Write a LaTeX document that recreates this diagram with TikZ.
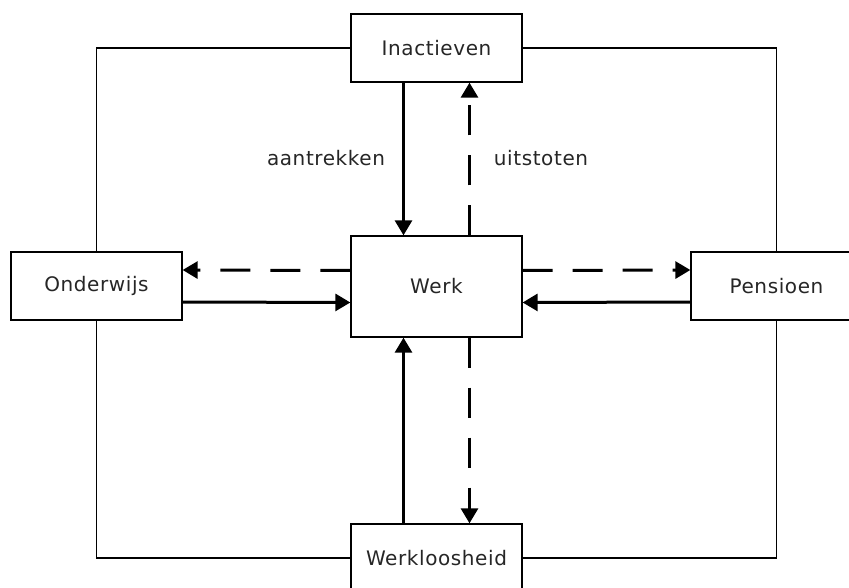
\documentclass[tikz,border=0pt]{standalone}
\usepackage{fontspec}
\setmainfont{DejaVu Sans}[LetterSpace=3]
\usetikzlibrary{arrows.meta}

\tikzset{
  box/.style={draw, line width=1.3pt, fill=white, inner sep=0pt,
    minimum width=171pt, minimum height=68pt},
  lbl/.style={font=\fontsize{20}{24}\selectfont, text=black!85},
  flow/.style={line width=3pt, -{Triangle[width=17pt,length=15pt]}},
  back/.style={flow, dash pattern=on 30pt off 20pt},
  frame/.style={line width=1.3pt},
}

\begin{document}
\begin{tikzpicture}[x=1pt, y=-1pt]

  \newcommand\dX{33pt};
  \newcommand\dY{16pt};

  \useasboundingbox (0,0) rectangle (849,588); %% positioning

  %% boxes
  \node[box, lbl] (inact) at (436.5, 48) {Inactieven};
  \node[box, lbl, minimum height=101pt] (werk) at (436.5, 286.5) {Werk};
  \node[box, lbl] (onder) at (96.5, 286) {Onderwijs};
  \node[box, lbl] (pens)  at (776.5, 286) {Pensioen};
  \node[box, lbl] (werkl) at (436.5, 558) {Werkloosheid};

  %% outer frame
  \draw[frame] (onder) |- (inact);
  \draw[frame] (inact) -| (pens);
  \draw[frame] (pens) |- (werkl);
  \draw[frame] (werkl) -| (onder);

  %% flows
  \draw[flow] ([xshift=-\dX]inact.south) -- ([xshift=-\dX]werk.north);
  \draw[back] ([xshift=\dX]werk.north) -- ([xshift=\dX]inact.south);

  \draw[back] ([yshift=\dY]werk.west) -- ([yshift=\dY]onder.east);
  \draw[flow] ([yshift=-\dY]onder.east) -- ([yshift=-\dY]werk.west);

  \draw[back] ([yshift=\dY]werk.east) -- ([yshift=\dY]pens.west);
  \draw[flow] ([yshift=-\dY]pens.west) -- ([yshift=-\dY]werk.east);

  \draw[flow] ([xshift=-\dX]werkl.north) -- ([xshift=-\dX]werk.south);
  \draw[back] ([xshift=\dX]werk.south) -- ([xshift=\dX]werkl.north);

  \node[lbl] (aan) at (326, 158) {aantrekken};
  \node[lbl] (uit) at (541, 158) {uitstoten};

\end{tikzpicture}
\end{document}
